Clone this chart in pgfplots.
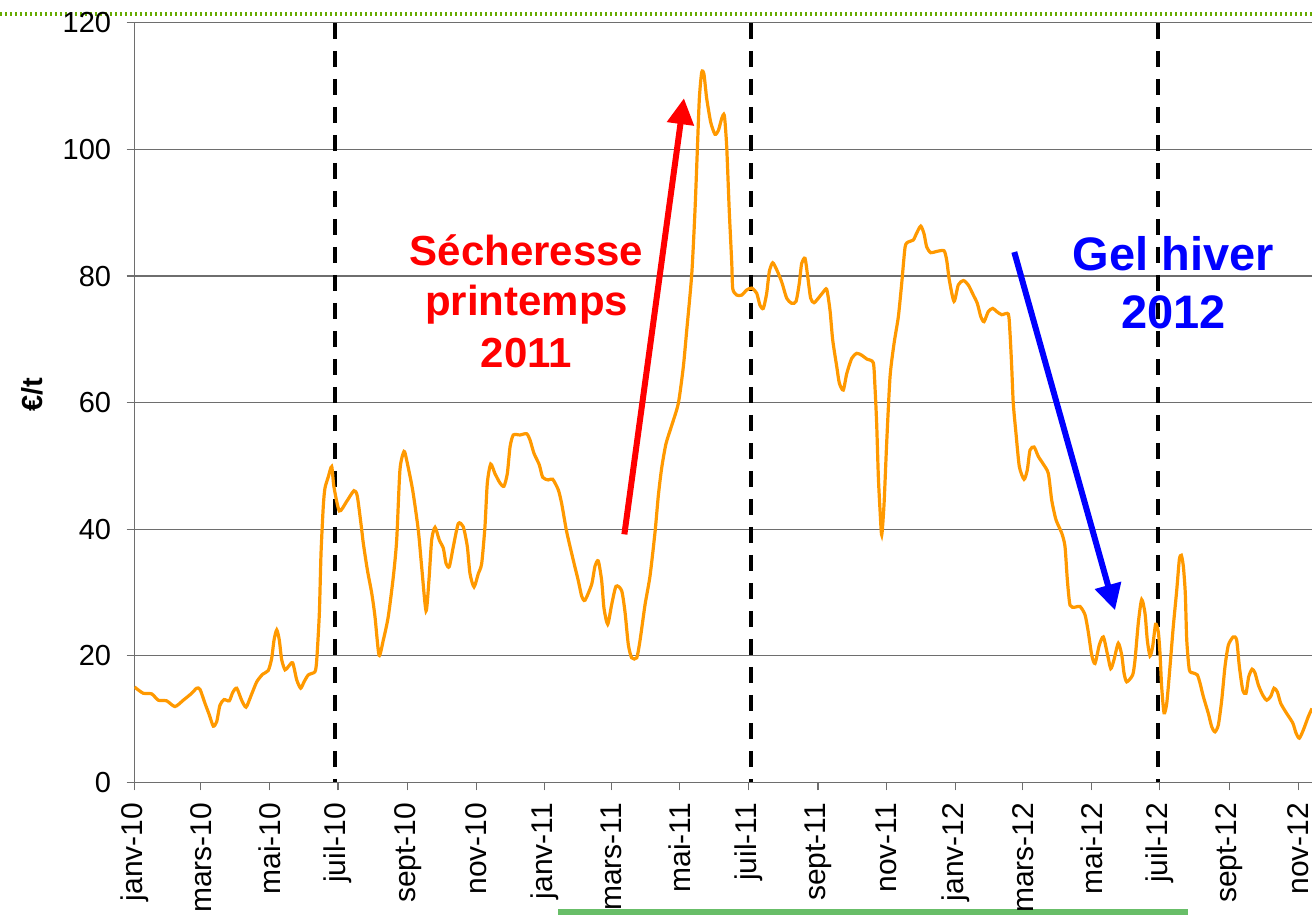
\documentclass[border=0pt]{standalone}
\usepackage{pgfplots}
\pgfplotsset{compat=1.18}
\usepackage{pgfplotstable}
\usepackage{fontspec}
\setmainfont{Liberation Sans}
\usetikzlibrary{arrows.meta}
\definecolor{lineorange}{RGB}{255,153,0}
\definecolor{topgreen}{RGB}{102,170,0}
\definecolor{botgreen}{RGB}{104,190,104}
\definecolor{gridgray}{RGB}{110,110,110}

\pgfplotstableread{
d v
0 15.1
1.3 14.9
7.8 14.1
15.3 14.0
21.2 13.0
28.6 12.9
36.0 12.0
43.4 13.0
50.9 14.1
55.3 14.9
58.3 14.7
62.7 12.5
66.5 10.7
70.1 8.9
73.1 9.6
76.0 12.2
79.6 13.1
84.3 12.9
87.3 14.2
90.9 14.9
95.3 13.0
99.2 11.9
103.4 13.6
108.7 15.9
114.0 17.1
119.0 17.7
122.0 19.6
124.1 22.5
126.5 24.1
128.8 22.5
130.9 19.4
133.9 17.8
136.8 18.3
140.7 18.9
144.3 16.2
147.8 14.9
150.8 15.9
154.6 17.0
160.5 17.5
162.1 19.4
164.4 26.7
165.9 36.2
167.9 43.6
169.4 46.5
172.4 48.3
175.4 49.9
177.4 46.7
182.2 42.9
188.7 44.4
195.2 46.1
198.2 45.2
202.1 39.9
203.5 37.8
207.1 33.6
211.0 29.9
213.9 26.2
217.5 20.1
221.3 22.5
225.7 26.2
230.2 32.5
233.2 38.3
236.1 49.4
239.7 52.3
242.1 50.9
247.4 46.2
252.4 39.9
255.4 34.1
259.3 27.1
261.9 32.0
264.3 38.3
267.3 40.3
271.1 38.3
274.7 37.0
277.1 34.6
280.0 34.1
283.6 37.3
288.0 40.9
292.4 40.4
296.0 37.3
298.4 33.0
302.0 30.9
305.8 33.0
308.8 34.6
311.7 40.4
313.8 47.3
316.8 50.3
320.6 48.8
325.1 47.3
328.6 46.8
331.6 48.8
334.0 53.0
336.9 54.9
342.9 54.9
348.8 55.1
351.8 54.1
355.3 52.0
360.0 50.2
363.1 48.2
368.0 47.8
372.0 47.9
377.0 46.2
380.0 44.0
384.4 39.6
390.3 35.1
394.7 31.9
397.8 29.4
400.7 28.8
406.6 31.3
409.6 34.2
412.5 35.0
415.5 31.9
417.6 27.5
420.9 25.0
424.4 28.1
428.3 31.0
433.3 30.3
436.3 26.9
439.2 21.8
442.2 19.7
446.7 19.7
449.6 22.4
454.1 28.1
458.5 32.6
463.0 39.6
465.9 45.3
468.9 49.7
472.7 53.5
477.8 56.4
483.7 59.9
488.1 65.6
491.1 71.3
495.6 80.2
498.5 90.3
500.6 99.9
502.4 108.1
504.5 112.2
506.5 111.9
508.9 108.1
512.5 104.3
516.3 102.4
519.3 103.0
522.3 104.9
524.6 105.4
526.7 100.5
529.0 90.3
531.2 82.1
532.1 78.0
535.6 77.0
540.1 77.0
544.5 77.8
549.0 78.1
553.4 77.3
556.3 75.4
559.3 74.9
562.3 77.3
564.6 80.7
567.6 82.1
571.2 81.0
575.6 79.1
580.1 76.5
584.5 75.7
588.4 76.0
591.3 78.9
593.4 82.0
596.4 82.8
598.8 79.9
601.4 76.5
604.4 75.8
608.2 76.5
612.7 77.5
615.7 77.9
618.6 74.6
621.0 69.9
624.6 65.7
626.9 63.1
630.4 62.0
633.5 64.6
637.9 67.0
642.4 67.8
646.8 67.5
651.3 66.9
657.1 66.3
658.6 62.5
660.1 56.7
661.6 48.3
663.1 43.0
664.6 39.1
666.7 44.1
669.0 53.6
672.0 64.1
675.6 69.4
679.4 73.6
682.4 78.9
685.4 84.6
688.3 85.4
692.7 85.7
695.7 86.8
699.3 87.9
702.2 86.7
704.6 84.6
708.2 83.7
713.5 83.9
720.0 84.0
722.4 82.5
724.7 79.4
728.9 76.0
732.7 78.6
737.2 79.3
741.6 78.6
746.1 77.0
749.6 75.7
752.7 73.6
755.6 72.8
759.4 74.4
763.3 74.9
766.9 74.4
771.3 73.9
777.2 74.0
778.7 71.0
780.2 65.7
781.6 59.9
784.0 55.2
787.0 49.9
791.2 47.9
794.1 49.4
796.5 52.5
800.1 53.0
803.9 51.5
808.3 50.3
812.8 48.8
815.8 44.6
819.6 41.5
824.7 39.4
827.6 37.3
829.7 32.0
832.1 28.0
836.5 27.7
841.0 27.8
845.4 26.5
848.3 23.8
851.4 20.1
854.3 18.8
858.1 21.7
861.7 23.0
865.2 20.4
868.3 18.0
871.2 19.4
875.0 22.0
878.1 20.1
880.1 17.3
882.5 15.9
887.8 17.0
889.9 19.4
892.8 25.2
895.8 28.9
898.8 26.7
900.8 22.5
903.2 20.0
905.6 21.5
908.2 25.0
910.6 23.8
912.1 20.4
913.6 15.1
915.7 11.0
918.1 12.5
921.0 18.3
923.9 24.6
927.0 30.4
929.3 35.2
931.1 35.9
932.9 34.1
934.6 29.9
935.9 22.5
938.2 17.8
941.7 17.3
945.3 17.0
947.7 15.7
950.6 13.6
955.1 10.9
958.1 8.8
961.0 8.0
964.0 9.1
967.0 13.0
969.9 18.3
972.9 21.7
977.3 23.0
980.3 22.5
982.7 18.3
985.7 14.6
988.6 14.1
991.0 16.7
994.0 17.9
996.6 17.3
999.6 15.4
1003.5 13.8
1007.0 13.0
1010.6 13.6
1013.5 14.9
1016.5 14.3
1019.5 12.5
1024.8 10.9
1030.2 9.4
1033.1 7.8
1036.0 7.0
1039.6 8.3
1044.0 10.4
1047.3 11.7
}\pricedata

\begin{document}
\begin{tikzpicture}
\path[use as bounding box] (-67.25pt,-66.25pt) rectangle (588.75pt,391.25pt);
% decorative slide lines
\draw[topgreen, line width=1.6pt, dash pattern=on 1.2pt off 1.3pt] (-67.25pt,384.25pt) -- (588.75pt,384.25pt);
\draw[botgreen, line width=2.6pt] (211.75pt,-64.75pt) -- (526.75pt,-64.75pt);
\begin{axis}[
  at={(0pt,0pt)}, anchor=south west,
  scale only axis,
  width=588.75pt, height=379.8pt,
  xmin=0, xmax=1047.3,
  ymin=0, ymax=120,
  axis x line=bottom, axis y line=left,
  axis line style={-, gridgray, line width=0.8pt},
  tick align=outside,
  major tick length=4pt,
  tick style={gridgray, line width=0.6pt},
  ytick={0,20,40,60,80,100,120},
  xtick={0,59,120,181,243,304,365,424,485,546,608,669,730,790,851,912,974,1035},
  xticklabels={janv-10,mars-10,mai-10,juil-10,sept-10,nov-10,janv-11,mars-11,mai-11,juil-11,sept-11,nov-11,janv-12,mars-12,mai-12,juil-12,sept-12,nov-12},
  ymajorgrids,
  major grid style={gridgray, line width=0.6pt},
  /pgf/number format/assume math mode=true,
  yticklabel style={font=\fontsize{14.5}{16}\selectfont, inner sep=0pt, xshift=-7.5pt},
  xticklabel style={font=\fontsize{15}{17}\selectfont, rotate=90, anchor=east, inner sep=0pt, xshift=-6pt},
  ylabel={\textbf{€/t}},
  ylabel style={at={(axis description cs:-0.0871,0.5101)}, anchor=center, rotate=0, font=\fontsize{14.5}{16}\selectfont},
  clip=true,
]
\addplot[black, line width=2pt, dash pattern=on 8pt off 6pt] coordinates {(178,120) (178,0)};
\addplot[black, line width=2pt, dash pattern=on 8pt off 6pt] coordinates {(548,120) (548,0)};
\addplot[black, line width=2pt, dash pattern=on 8pt off 6pt] coordinates {(910,120) (910,0)};
\addplot[lineorange, line width=1.6pt, smooth, tension=0.4, no marks] table[x=d, y=v] {\pricedata};
\draw[red, line width=3pt, -{Triangle[length=13pt,width=13pt]}] (axis cs:435.7,39.2) -- (axis cs:488.7,108.1);
\draw[blue, line width=3pt, -{Triangle[length=13pt,width=13pt]}] (axis cs:782.5,83.8) -- (axis cs:872.1,27.2);
\node[red, font=\bfseries\fontsize{21}{25}\selectfont, anchor=base] at (axis cs:348.7,81.75) {Sécheresse};
\node[red, font=\bfseries\fontsize{21}{25}\selectfont, anchor=base] at (axis cs:348.7,73.85) {printemps};
\node[red, font=\bfseries\fontsize{21}{25}\selectfont, anchor=base] at (axis cs:348.7,65.6) {2011};
\node[blue, font=\bfseries\fontsize{23.5}{28}\selectfont, anchor=base] at (axis cs:924.1,80.96) {Gel hiver};
\node[blue, font=\bfseries\fontsize{23.5}{28}\selectfont, anchor=base] at (axis cs:924.1,71.8) {2012};
\end{axis}
\end{tikzpicture}
\end{document}
